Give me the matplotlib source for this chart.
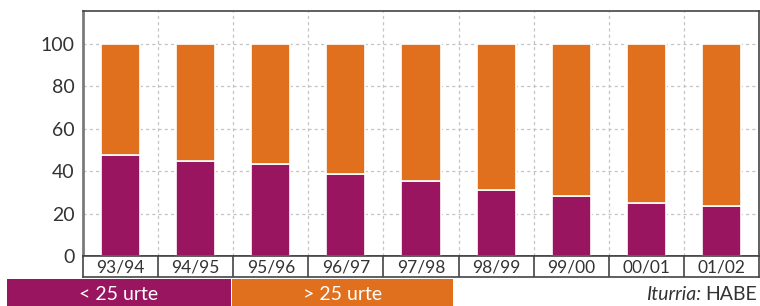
import matplotlib

matplotlib.use("Agg")
import matplotlib.pyplot as plt
from matplotlib.patches import Rectangle

plt.rcParams["font.family"] = ["Lato", "DejaVu Sans"]

# data
years = ["93/94", "94/95", "95/96", "96/97", "97/98", "98/99", "99/00", "00/01", "01/02"]
under_25 = [47.7, 44.7, 43.1, 38.6, 35.5, 31.3, 28.2, 25.1, 23.5]
over_25 = [100 - v for v in under_25]
yticks = [0, 20, 40, 60, 80, 100]
series_labels = ["< 25 urte", "> 25 urte"]

PURPLE = "#99155F"
ORANGE = "#E0701E"
SPINE = "#444444"
GRID = "#c4c4c4"
TEXT = "#333333"

W, H = 760, 306
fig = plt.figure(figsize=(W / 100, H / 100), dpi=100)


def px_axes(x0, y0, x1, y1):
    """Axes from pixel box (top-left origin)."""
    return fig.add_axes([x0 / W, 1 - y1 / H, (x1 - x0) / W, (y1 - y0) / H])


# main plot
ax = px_axes(83, 11, 759, 256)
x = range(len(years))
ax.bar(x, under_25, width=0.52, color=PURPLE, edgecolor="white", linewidth=1.2, zorder=3)
ax.bar(x, over_25, width=0.52, bottom=under_25, color=ORANGE, edgecolor="white",
       linewidth=1.2, zorder=3)
ax.set_xlim(-0.5, len(years) - 0.5)
ax.set_ylim(0, 115.4)
ax.set_yticks(yticks)
ax.set_yticklabels([str(t) for t in yticks], fontsize=14, color=TEXT)
ax.set_xticks([i + 0.5 for i in range(len(years) - 1)])
ax.set_xticklabels([])
ax.tick_params(axis="both", length=0, pad=6)
ax.grid(True, color=GRID, ls=(0, (2.5, 2.5)), lw=0.9, zorder=0)
for s in ax.spines.values():
    s.set_color(SPINE)
    s.set_linewidth(1.2)
ax.spines["left"].set_color("#7a7a7a")
ax.spines["left"].set_linewidth(2)

# category row
cax = px_axes(83, 256, 759, 277)
cax.set_xlim(-0.5, len(years) - 0.5)
cax.set_ylim(0, 1)
cax.set_xticks([])
cax.set_yticks([])
for s in cax.spines.values():
    s.set_color(SPINE)
    s.set_linewidth(1.2)
for i, lab in enumerate(years):
    if i > 0:
        cax.axvline(i - 0.5, color=SPINE, lw=1.2)
    cax.text(i, 0.45, lab, ha="center", va="center", fontsize=12.5, color=TEXT)

# legend boxes
lax = fig.add_axes([0, 0, 1, 1])
lax.set_xlim(0, W)
lax.set_ylim(H, 0)
lax.axis("off")
boxes = [(7, 231, PURPLE), (232, 453, ORANGE)]
for (x0, x1, c), lab in zip(boxes, series_labels):
    lax.add_patch(Rectangle((x0, 279), x1 - x0, 27, color=c, lw=0))
    lax.text((x0 + x1) / 2, 294, lab, ha="center", va="center", fontsize=14,
             color="white")

# source note: "Iturria:" italic, "HABE" upright, flush right
habe = lax.text(757, 294, "HABE", ha="right", va="center", fontsize=14, color=TEXT)
fig.canvas.draw()
bb = habe.get_window_extent()
left_px = bb.x0 - 4
lax.text(left_px, 294, "Iturria:", ha="right", va="center", fontsize=14,
         style="italic", color=TEXT)

fig.savefig("out.png", dpi=100)
